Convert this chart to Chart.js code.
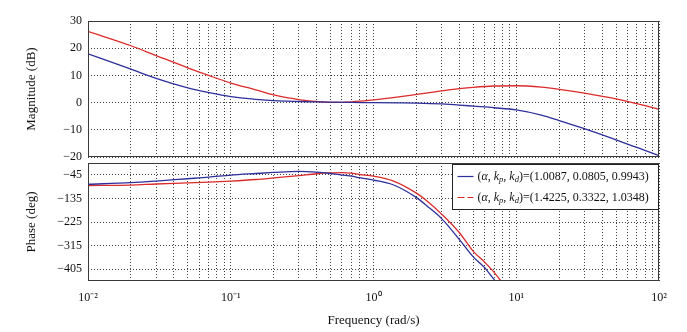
<!DOCTYPE html>
<html>
<head>
<meta charset="utf-8">
<script src="https://cdn.jsdelivr.net/npm/chart.js@4.4.1/dist/chart.umd.min.js"></script>
<style>
  html, body { margin: 0; padding: 0; background: #fff; }
  #wrap { position: relative; width: 687px; height: 332px; }
  #magChart { position: absolute; left: 0; top: 0; }
  #phaseChart { position: absolute; left: 0; top: 160px; }
</style>
</head>
<body>
<div id="wrap">
  <canvas id="magChart" width="687" height="160"></canvas>
  <canvas id="phaseChart" width="687" height="172"></canvas>
</div>
<script>
const FONT = '"Liberation Serif", "Times New Roman", serif';
const BLUE = '#2d2f9a';
const RED = '#dc2a2a';

// frequency grid (rad/s)
const decades = [0.01, 0.1, 1, 10, 100];
const decadeLabels = ['10⁻²', '10⁻¹', '10⁰', '10¹', '10²'];

// magnitude (dB)
const magFreq = [0.01, 0.02, 0.03, 0.05, 0.07, 0.1, 0.15, 0.2, 0.3, 0.4, 0.5, 0.7, 1, 1.5, 2, 3, 4, 5, 7, 10, 15, 20, 30, 50, 70, 100];
const blueMag = [17.9, 12.3, 8.9, 5.4, 3.7, 2.2, 1.2, 0.7, 0.4, 0.25, 0.15, 0.05, 0, -0.1, -0.2, -0.5, -0.9, -1.3, -1.9, -2.7, -4.6, -6.6, -9.6, -13.7, -16.5, -19.5];
const redMag = [26.2, 20.9, 17.3, 12.8, 10.0, 7.2, 4.7, 2.8, 1.1, 0.4, 0.1, 0.3, 1.0, 2.1, 3.0, 4.3, 5.1, 5.6, 6.1, 6.2, 5.7, 4.9, 3.5, 1.4, -0.4, -2.5];

// phase (deg)
const bluePhaseFreq = [0.01, 0.02, 0.03, 0.05, 0.07, 0.1, 0.15, 0.2, 0.3, 0.4, 0.5, 0.7, 0.8, 1, 1.37, 2, 2.36, 3, 4, 5, 6, 7, 7.5];
const bluePhase = [-81, -75, -69, -60, -54, -46, -40, -36, -32, -35, -40, -50, -56, -65, -83, -132, -163, -212, -292, -358, -399, -445, -465];
const redPhaseFreq = [0.01, 0.02, 0.03, 0.05, 0.07, 0.1, 0.15, 0.2, 0.3, 0.4, 0.5, 0.6, 0.7, 0.8, 1, 1.37, 2, 2.36, 3, 4, 5, 6, 7, 7.8, 8.3];
const redPhase = [-86, -84, -80, -76, -73, -69, -63, -57, -48, -41, -38, -37, -39, -44, -50, -68, -115, -144, -195, -266, -337, -378, -417, -450, -472];

const magTicks = [30, 20, 10, 0, -10, -20];
const phaseTicks = [-45, -135, -225, -315, -405];

const blueParams = ['1.0087', '0.0805', '0.9943'];
const redParams = ['1.4225', '0.3322', '1.0348'];

// every 1..9 multiple inside each decade, for the minor grid
const xGrid = [];
decades.slice(0, -1).forEach(d => {
  for (let m = 1; m <= 9; m++) xGrid.push(+(d * m).toPrecision(3));
});
xGrid.push(100);

const pts = (xs, ys) => xs.map((x, i) => ({ x, y: ys[i] }));
const minus = v => String(v).replace('-', '−');

const framePlugin = {
  id: 'frame',
  afterDraw(chart) {
    const { ctx, chartArea: a } = chart;
    ctx.save();
    ctx.strokeStyle = '#3a3a3a';
    ctx.lineWidth = 1;
    ctx.strokeRect(Math.round(a.left) + 0.5, Math.round(a.top) + 0.5, Math.round(a.right - a.left) - 1, Math.round(a.bottom - a.top) - 1);
    ctx.restore();
  },
};

function drawLegendRow(ctx, x, y, params) {
  const parts = [
    ['(', ''], ['α', 'i'], [', ', ''], ['k', 'i'], ['p', 's'], [', ', ''], ['k', 'i'], ['d', 's'],
    [')=(' + params.join(', ') + ')', ''],
  ];
  ctx.textBaseline = 'middle';
  ctx.textAlign = 'left';
  parts.forEach(([t, k]) => {
    if (k === 's') {
      ctx.font = 'italic 8.5px ' + FONT;
      ctx.fillText(t, x, y + 3.5);
    } else {
      ctx.font = (k === 'i' ? 'italic ' : '') + '12px ' + FONT;
      ctx.fillText(t, x, y);
    }
    x += ctx.measureText(t).width;
  });
}

const legendPlugin = {
  id: 'bodeLegend',
  afterDraw(chart) {
    const { ctx, chartArea: a } = chart;
    const w = 206, h = 45;
    const left = Math.round(a.right) - w - 0.5, top = Math.round(a.top) + 1.5;
    ctx.save();
    ctx.fillStyle = '#fff';
    ctx.fillRect(left, top, w, h);
    ctx.strokeStyle = '#222';
    ctx.lineWidth = 1;
    ctx.strokeRect(left, top, w, h);

    ctx.lineWidth = 1.2;
    ctx.strokeStyle = BLUE;
    ctx.beginPath();
    ctx.moveTo(left + 5, top + 12);
    ctx.lineTo(left + 21, top + 12);
    ctx.stroke();

    ctx.strokeStyle = RED;
    ctx.setLineDash([7, 3]);
    ctx.beginPath();
    ctx.moveTo(left + 5, top + 33);
    ctx.lineTo(left + 21, top + 33);
    ctx.stroke();
    ctx.setLineDash([]);

    ctx.fillStyle = '#111';
    drawLegendRow(ctx, left + 25, top + 12, blueParams);
    drawLegendRow(ctx, left + 25, top + 33, redParams);
    ctx.restore();
  },
};

function lineSet(data, color) {
  return {
    data,
    borderColor: color,
    backgroundColor: color,
    borderWidth: 1.3,
    pointRadius: 0,
    showLine: true,
    fill: false,
    cubicInterpolationMode: 'monotone',
  };
}

function xAxis(showLabels) {
  return {
    type: 'logarithmic',
    min: 0.01,
    max: 100,
    afterBuildTicks: s => { s.ticks = xGrid.map(v => ({ value: v })); },
    afterFit: s => {
      s.height = showLabels ? 51 : 0;
      s.paddingLeft = s.paddingRight = 0;
    },
    grid: { color: 'rgba(30,30,30,0.85)', lineWidth: 1, drawTicks: false },
    border: { display: false, dash: [1, 2] },
    ticks: {
      display: showLabels,
      autoSkip: false,
      maxRotation: 0,
      padding: 10,
      color: '#111',
      font: { family: FONT, size: 12 },
      callback: v => {
        const i = decades.findIndex(d => Math.abs(d - v) / d < 1e-6);
        return i >= 0 ? decadeLabels[i] : '';
      },
    },
    title: {
      display: showLabels,
      text: 'Frequency (rad/s)',
      color: '#111',
      font: { family: FONT, size: 13 },
      padding: { top: 0, bottom: 4 },
    },
  };
}

function yAxis(min, max, tickVals, title) {
  return {
    min,
    max,
    afterBuildTicks: s => { s.ticks = tickVals.map(v => ({ value: v })); },
    afterFit: s => {
      s.width = 88;
      s.paddingTop = s.paddingBottom = 0;
    },
    grid: { color: 'rgba(30,30,30,0.85)', lineWidth: 1, drawTicks: false },
    border: { display: false, dash: [1, 2] },
    ticks: {
      padding: 6,
      color: '#111',
      font: { family: FONT, size: 12 },
      callback: v => minus(v),
    },
    title: {
      display: true,
      text: title,
      color: '#111',
      font: { family: FONT, size: 13 },
      padding: { top: 24, bottom: 0 },
    },
  };
}

const common = {
  responsive: false,
  animation: false,
  devicePixelRatio: 1,
  plugins: { legend: { display: false }, tooltip: { enabled: false } },
};

new Chart(document.getElementById('magChart'), {
  type: 'scatter',
  data: {
    datasets: [
      lineSet(pts(magFreq, blueMag), BLUE),
      lineSet(pts(magFreq, redMag), RED),
    ],
  },
  options: {
    ...common,
    layout: { padding: { left: 0, right: 28, top: 21, bottom: 3 } },
    scales: {
      x: xAxis(false),
      y: yAxis(-20, 30, magTicks, 'Magnitude (dB)'),
    },
  },
  plugins: [framePlugin],
});

new Chart(document.getElementById('phaseChart'), {
  type: 'scatter',
  data: {
    datasets: [
      lineSet(pts(bluePhaseFreq, bluePhase), BLUE),
      lineSet(pts(redPhaseFreq, redPhase), RED),
    ],
  },
  options: {
    ...common,
    layout: { padding: { left: 0, right: 28, top: 3, bottom: 0 } },
    scales: {
      x: xAxis(true),
      y: yAxis(-450, 0, phaseTicks, 'Phase (deg)'),
    },
  },
  plugins: [framePlugin, legendPlugin],
});
</script>
</body>
</html>
